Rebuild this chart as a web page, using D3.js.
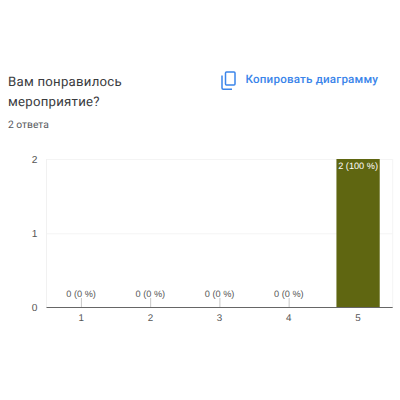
<!DOCTYPE html>
<html><head><meta charset="utf-8">
<script src="https://cdn.jsdelivr.net/npm/d3@7/dist/d3.min.js"></script>
<style>html,body{margin:0;padding:0;background:#fff}svg{display:block}text{text-rendering:geometricPrecision}</style>
</head><body><svg id="c" width="400" height="400"></svg>
<script>
const categories = ["1","2","3","4","5"];
const counts = [0,0,0,0,2];
const percents = [0,0,0,0,100];
const yTicks = [0,1,2];
const titleLines = ["Вам понравилось","мероприятие?"];
const subtitle = "2 ответа";
const copyLabel = "Копировать диаграмму";

const svg = d3.select("#c");
const L = 46.5, R = 392.7, T = 159, B = 307.5;
const x = d3.scaleBand().domain(categories).range([L,R]).paddingInner(0.375).paddingOuter(0.1875);
const y = d3.scaleLinear().domain([0,2]).range([B,T]);

svg.append("g").selectAll("text").data(titleLines).join("text")
  .attr("x",8).attr("y",(d,i)=>86+i*20).attr("font-family","Roboto").attr("font-size",13.2)
  .attr("letter-spacing",0.25).attr("fill","#3a3b3e").text(d=>d);
svg.append("text").attr("x",8).attr("y",128).attr("font-family","Roboto").attr("font-size",10.3)
  .attr("fill","#55585c").text(subtitle);

// copy icon
const ic = svg.append("g").attr("fill","none").attr("stroke","#3b85ea").attr("stroke-width",1.5);
ic.append("rect").attr("x",225.5).attr("y",72).attr("width",9.5).attr("height",13).attr("rx",1);
ic.append("path").attr("d","M222 75.5V88a1.2 1.2 0 0 0 1.2 1.2H232");
svg.append("text").attr("x",245.5).attr("y",83).attr("font-family","Roboto").attr("font-size",11.6)
  .attr("font-weight",500).attr("letter-spacing",0.2).attr("fill","#3b85ea").text(copyLabel);

// grid
svg.append("g").selectAll("line").data(yTicks.filter(d=>d>0)).join("line")
  .attr("x1",L).attr("x2",R).attr("y1",d=>y(d)+.5).attr("y2",d=>y(d)+.5).attr("stroke","#f4f4f4");
svg.append("line").attr("x1",L).attr("x2",L).attr("y1",T).attr("y2",B).attr("stroke","#f1f1f1");
svg.append("line").attr("x1",R).attr("x2",R).attr("y1",T).attr("y2",B).attr("stroke","#f4f4f4");

svg.append("g").selectAll("text").data(yTicks).join("text")
  .attr("x",37.5).attr("y",d=>y(d)+3.8).attr("text-anchor","end").attr("font-family","Liberation Sans")
  .attr("font-size",10.2).attr("fill","#555").text(d=>d);

// bars
svg.append("g").selectAll("rect").data(categories).join("rect")
  .attr("x",d=>x(d)).attr("width",x.bandwidth())
  .attr("y",(d,i)=>y(counts[i])).attr("height",(d,i)=>B-y(counts[i])).attr("fill","#5f6611");

// leader lines for zero values
svg.append("g").selectAll("line").data(categories.filter((d,i)=>counts[i]===0)).join("line")
  .attr("x1",d=>x(d)+x.bandwidth()/2+.3).attr("x2",d=>x(d)+x.bandwidth()/2+.3)
  .attr("y1",298).attr("y2",B).attr("stroke","#c8c8c8");

// axis baseline
svg.append("line").attr("x1",L).attr("x2",R).attr("y1",B).attr("y2",B).attr("stroke","#666").attr("stroke-width",1);

// x labels
svg.append("g").selectAll("text").data(categories).join("text")
  .attr("x",d=>x(d)+x.bandwidth()/2).attr("y",321).attr("text-anchor","middle")
  .attr("font-family","Liberation Sans").attr("font-size",9.8).attr("fill","#555").text(d=>d);

// value labels
svg.append("g").selectAll("text").data(categories).join("text")
  .attr("x",d=>x(d)+x.bandwidth()/2).attr("y",(d,i)=>counts[i]===0?296.5:y(counts[i])+10)
  .attr("text-anchor","middle").attr("font-family","Liberation Sans").attr("font-size",9.2)
  .attr("fill",(d,i)=>counts[i]===0?"#555":"#fff")
  .text((d,i)=>`${counts[i]} (${percents[i]} %)`);
</script></body></html>
